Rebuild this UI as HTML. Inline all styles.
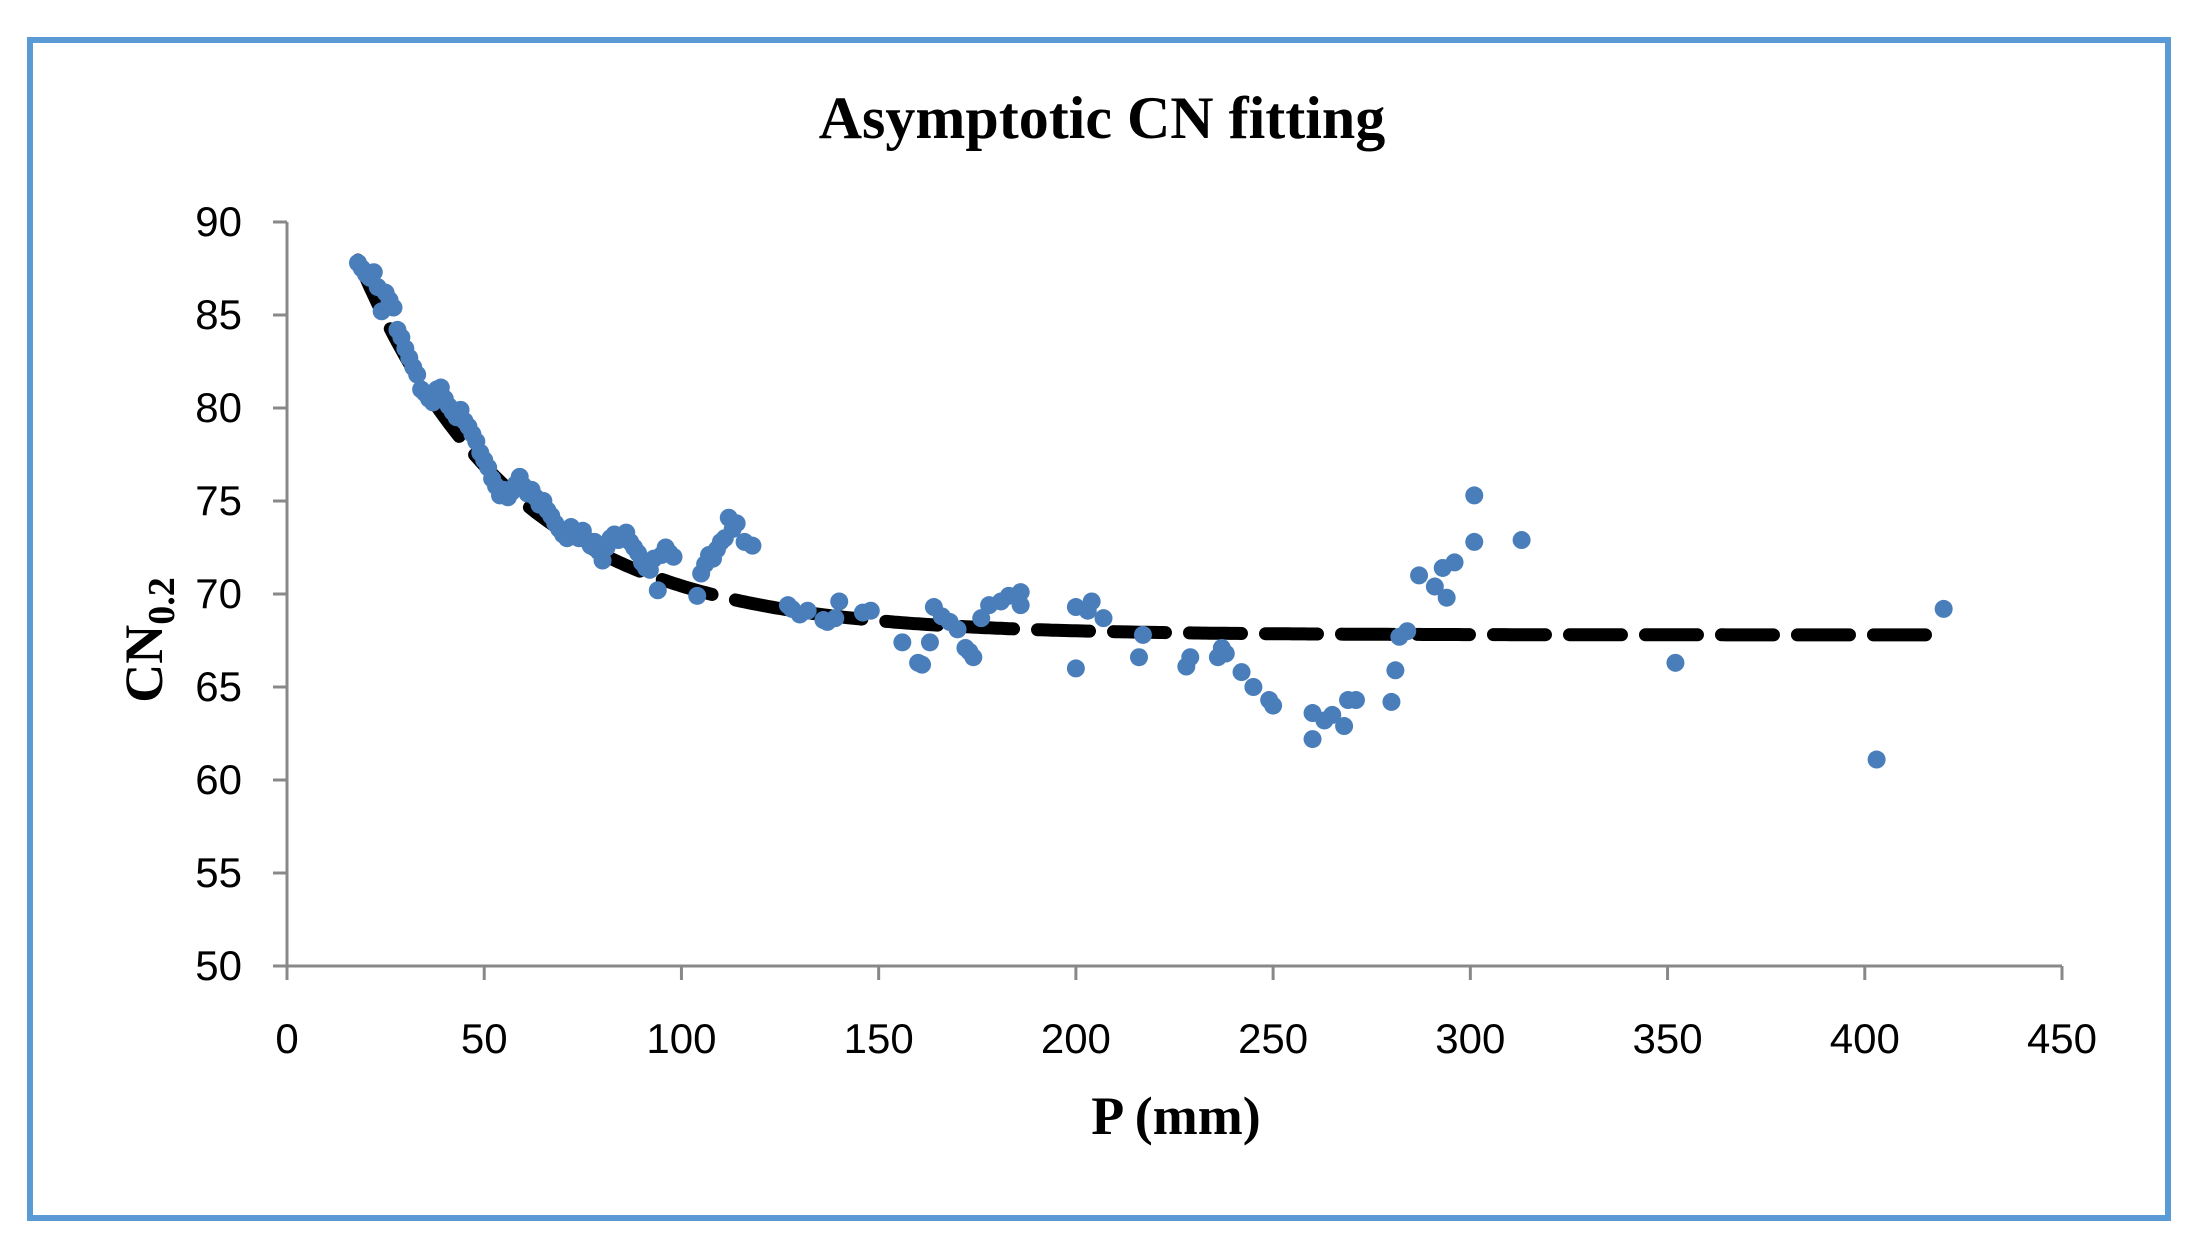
<!DOCTYPE html>
<html><head><meta charset="utf-8"><style>
html,body{margin:0;padding:0;background:#fff;}
svg{display:block;font-family:"Liberation Serif",serif;}
</style></head><body>
<svg id="chart" width="2187" height="1241" viewBox="0 0 2187 1241">
<rect x="30" y="40" width="2138" height="1178" fill="#fff" stroke="#5b9bd5" stroke-width="6"/>
<text x="1102" y="138" text-anchor="middle" font-size="60" font-weight="bold">Asymptotic CN  fitting</text>
<g id="axes"></g>
<g id="fit"></g>
<g id="pts"></g>
<text x="1176" y="1134" text-anchor="middle" font-size="54" font-weight="bold">P (mm)</text>
<text transform="translate(162,640) rotate(-90)" text-anchor="middle" font-size="54" font-weight="bold">CN<tspan font-size="38" dy="12">0.2</tspan></text>
</svg>
<script>
const xTicks=[0,50,100,150,200,250,300,350,400,450];
const yTicks=[50,55,60,65,70,75,80,85,90];
const pValues=[18,19,20,21,22,23,24,25,26,27,28,29,30,31,32,33,34,35,36,37,38,39,40,41,42,43,44,45,46,47,48,49,50,51,52,53,54,55,56,57,58,59,60,61,62,63,64,65,66,67,68,69,70,71,72,73,74,75,76,77,78,79,80,81,82,83,84,85,86,87,88,89,90,91,92,93,94,95,96,97,98,104,105,106,107,108,109,110,111,112,113,114,116,118,127,128,130,132,136,137,139,140,146,148,156,160,161,163,164,166,168,170,172,173,174,176,178,181,183,186,186,200,200,203,204,207,216,217,228,229,236,237,238,242,245,249,250,260,260,263,265,268,269,271,280,281,282,284,287,291,293,294,296,301,301,313,352,403,420];
const cnValues=[87.8,87.5,87.2,87.0,87.3,86.5,85.2,86.2,85.8,85.4,84.2,83.8,83.2,82.7,82.2,81.8,81.0,80.8,80.5,80.3,81.0,81.1,80.5,80.1,79.8,79.5,79.9,79.3,79.0,78.6,78.2,77.6,77.2,76.8,76.2,75.8,75.3,75.6,75.2,75.5,75.9,76.3,75.8,75.4,75.6,75.2,74.8,75.0,74.5,74.2,73.8,73.5,73.2,73.0,73.6,73.3,73.0,73.4,72.9,72.6,72.8,72.3,71.8,72.5,73.0,73.2,72.9,73.1,73.3,72.8,72.5,72.2,71.7,71.4,71.3,71.9,70.2,72.1,72.5,72.2,72.0,69.9,71.1,71.6,72.1,71.9,72.4,72.8,73.0,74.1,73.5,73.8,72.8,72.6,69.4,69.2,68.9,69.1,68.6,68.5,68.7,69.6,69.0,69.1,67.4,66.3,66.2,67.4,69.3,68.8,68.5,68.1,67.1,66.9,66.6,68.7,69.4,69.6,69.9,70.1,69.4,66.0,69.3,69.1,69.6,68.7,66.6,67.8,66.1,66.6,66.6,67.1,66.8,65.8,65.0,64.3,64.0,62.2,63.6,63.2,63.5,62.9,64.3,64.3,64.2,65.9,67.7,68.0,71.0,70.4,71.4,69.8,71.7,72.8,75.3,72.9,66.3,61.1,69.2];
const fitParams=[67.8,31.5,0.0248];
const fitRange=[18,420];
const NS="http://www.w3.org/2000/svg";
const X0=287,X1=2062,Y0=966,Y1=222;
function xs(v){return X0+(v-0)/(450-0)*(X1-X0);}
function ys(v){return Y0-(v-50)/(90-50)*(Y0-Y1);}
function mk(t,a,p){const e=document.createElementNS(NS,t);for(const k in a)e.setAttribute(k,a[k]);p.appendChild(e);return e;}
const ax=document.getElementById('axes');
let l=mk('line',{x1:X0,y1:Y1,x2:X0,y2:Y0,stroke:'#888','stroke-width':3},ax);


l=mk('line',{x1:X0,y1:Y0,x2:X1,y2:Y0,stroke:'#888','stroke-width':3},ax);


yTicks.forEach(v=>{
 const t=mk('line',{x1:X0-14,y1:ys(v),x2:X0,y2:ys(v),stroke:'#888','stroke-width':3},ax);
 
 
 const tx=mk('text',{x:X0-45,y:ys(v)+14,'text-anchor':'end','font-size':42,'font-family':'Liberation Sans, sans-serif'},ax);
 tx.textContent=v;
 
 
});
xTicks.forEach(v=>{
 const t=mk('line',{x1:xs(v),y1:Y0,x2:xs(v),y2:Y0+14,stroke:'#888','stroke-width':3},ax);
 
 
 const tx=mk('text',{x:xs(v),y:1053,'text-anchor':'middle','font-size':42,'font-family':'Liberation Sans, sans-serif'},ax);
 tx.textContent=v;
 
 
});
let d='';
for(let p=fitRange[0];p<=fitRange[1];p+=1){
 const y=fitParams[0]+fitParams[1]*Math.exp(-fitParams[2]*p);
 d+=(d?'L':'M')+xs(p).toFixed(1)+','+ys(y).toFixed(1);
}
const f=mk('path',{d:d,fill:'none',stroke:'#000','stroke-width':13,'stroke-dasharray':'52 24','stroke-linecap':'round'},document.getElementById('fit'));


const pts=document.getElementById('pts');
pValues.forEach((p,i)=>{
 const c=mk('circle',{cx:xs(p),cy:ys(cnValues[i]),r:9,fill:'#4a7ebb'},pts);
 
 
});
</script>
</body></html>
